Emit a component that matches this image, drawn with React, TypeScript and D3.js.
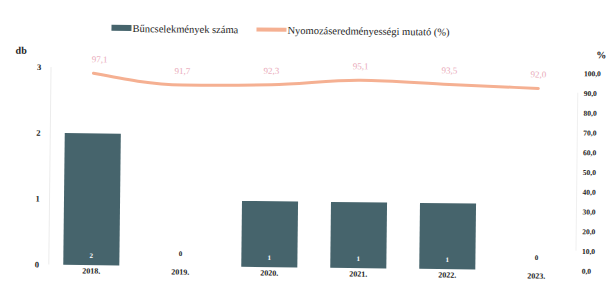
import React from 'react';
import * as d3 from 'd3';

const years = ['2018.', '2019.', '2020.', '2021.', '2022.', '2023.'];
const crimeCounts = [2, 0, 1, 1, 1, 0];
const clearanceRate = [97.1, 91.7, 92.3, 95.1, 93.5, 92.0];
const leftTicks = [0, 1, 2, 3];
const rightTicks = [0, 10, 20, 30, 40, 50, 60, 70, 80, 90, 100];
const barLegend = 'Bűncselekmények száma';
const lineLegend = 'Nyomozáseredményességi mutató (%)';

const width = 611;
const height = 282;
const barColor = '#46646c';
const lineColor = '#f5b092';
const lineLabelColor = '#e9a9b8';
const font = '"Liberation Serif", "DejaVu Serif", serif';

export default function App() {
    const x = d3.scaleBand<string>()
        .domain(years)
        .range([48, 582])
        .paddingInner(0.37)
        .paddingOuter(0.185);

    const yLeft = d3.scaleLinear().domain([0, 3]).range([267.5, 70]);
    const yRight = d3.scaleLinear().domain([0, 100]).range([267.5, 70]);

    const center = (d: string) => (x(d) || 0) + x.bandwidth() / 2;

    const line = d3.line<number>()
        .x((d, i) => center(years[i]))
        .y(d => yRight(d))
        .curve(d3.curveMonotoneX);

    const fmt = (v: number) => v.toFixed(1).replace('.', ',');

    return (
        <svg width={width} height={height}
             style={{position: 'absolute', left: 0, top: 0, background: '#fff'}}
             fontFamily={font}>
            {/* scanned page is a bit tilted */}
            <g transform="rotate(0.65, 305, 160)">
                {/* legend */}
                <rect x={110} y={27} width={20} height={6} fill={barColor} />
                <text x={131} y={34} fontSize={10.5} fill="#222">{barLegend}</text>
                <line x1={255} x2={285} y1={30} y2={30} stroke={lineColor} strokeWidth={4} />
                <text x={286} y={34} fontSize={10.5} fill="#222">{lineLegend}</text>

                {/* faint axis lines */}
                <line x1={50} x2={50} y1={yLeft(3)} y2={yLeft(0)} stroke="#ececec" />
                <line x1={577} x2={577} y1={yRight(90)} y2={yRight(10)} stroke="#f0f0f0" />

                {/* left axis */}
                <text x={20} y={57} fontSize={10} fontWeight="bold" textAnchor="middle" fill="#222">db</text>
                {leftTicks.map(t => (
                    <text key={t} x={38} y={yLeft(t) + 3} fontSize={8.5} fontWeight="bold"
                          textAnchor="middle" fill="#222">{t}</text>
                ))}

                {/* right axis */}
                <text x={600} y={55} fontSize={10} fontWeight="bold" textAnchor="middle" fill="#222">%</text>
                {rightTicks.map(t => (
                    <text key={t} x={583} y={yRight(t) + 3} fontSize={7.5} fontWeight="bold"
                          fill="#222">{fmt(t)}</text>
                ))}

                {/* bars */}
                {crimeCounts.map((v, i) => (
                    <rect key={years[i]} x={x(years[i])} y={yLeft(v)} width={x.bandwidth()}
                          height={yLeft(0) - yLeft(v)} fill={barColor} />
                ))}
                {crimeCounts.map((v, i) => (
                    <text key={'l' + years[i]} x={center(years[i])}
                          y={v > 0 ? yLeft(0) - 7 : yLeft(0) - 10}
                          fontSize={7} fontWeight="bold" textAnchor="middle"
                          fill={v > 0 ? '#fff' : '#222'}>{v}</text>
                ))}

                {/* line */}
                <path d={line(clearanceRate) || ''} fill="none" stroke={lineColor}
                      strokeWidth={3} strokeLinecap="round" />
                {clearanceRate.map((v, i) => (
                    <text key={'r' + years[i]} x={center(years[i]) + (i === 0 ? 6 : 0)}
                          y={yRight(v) - 11} fontSize={9} textAnchor="middle"
                          fill={lineLabelColor}>{fmt(v)}</text>
                ))}

                {/* x labels */}
                {years.map(d => (
                    <text key={'x' + d} x={center(d)} y={276} fontSize={8} fontWeight="bold"
                          textAnchor="middle" fill="#222">{d}</text>
                ))}
            </g>
        </svg>
    );
}
